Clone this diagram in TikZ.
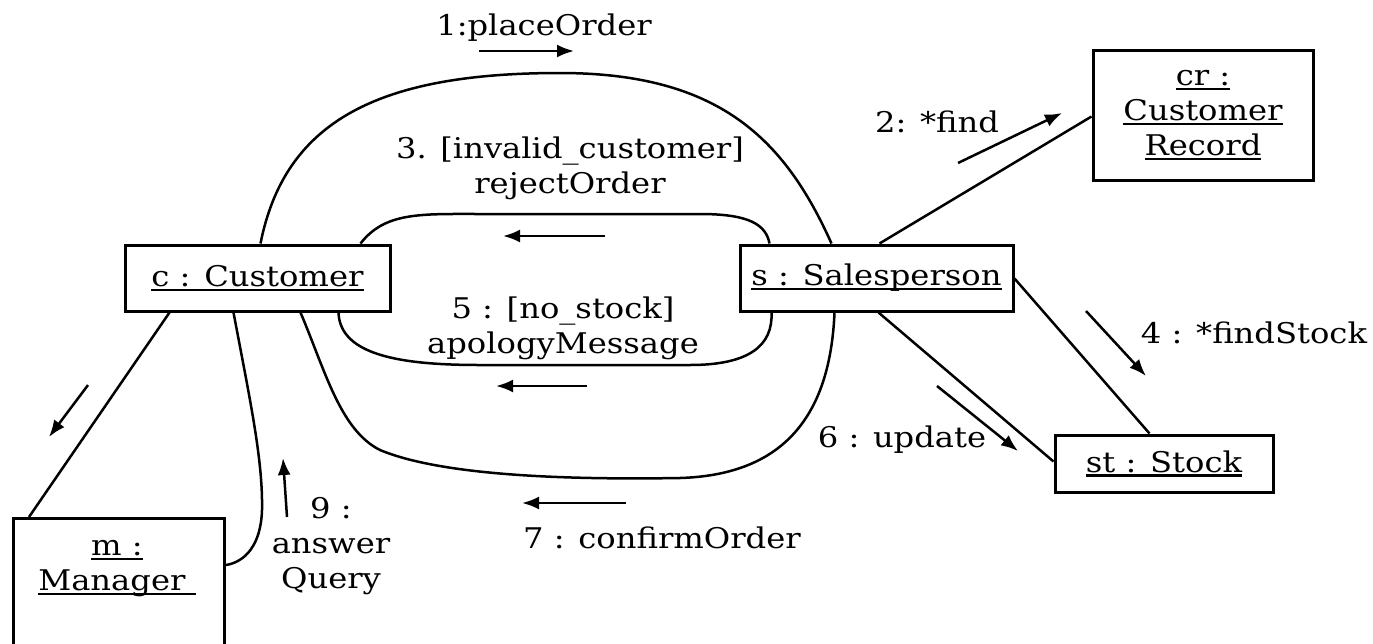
\documentclass[tikz,border=0pt]{standalone}
\usepackage{fontspec}
\setmainfont{DejaVu Serif}[FakeStretch=1.13]
\usetikzlibrary{arrows.meta}
\newsavebox\ulbox
\newcommand\ulx[1]{\sbox\ulbox{#1}\rlap{\rule[-4.5pt]{\wd\ulbox}{2.2pt}}\usebox\ulbox}
\begin{document}
\begin{tikzpicture}[x=1pt,y=-1pt,
  txt/.style={font=\fontsize{28.5}{35}\selectfont, inner sep=0pt, align=center},
  obj/.style={draw, line width=3pt, inner sep=0pt, align=center, font=\fontsize{28.5}{35}\selectfont},
  link/.style={line width=2.5pt},
  msg/.style={line width=2.5pt, -{Latex[length=17pt,width=13pt]}}]
\useasboundingbox (0,0) rectangle (1373,643);
\clip (0,0) rectangle (1373,643);
\fill[white] (0,0) rectangle (1373,643);

% objects
\node[obj, minimum width=265pt, minimum height=66pt] (c) at (257.5,278) {\ulx{c : Customer}};
\node[obj, minimum width=273pt, minimum height=66pt] (s) at (876.5,278) {\ulx{s : Salesperson}};
\node[obj, minimum width=220pt, minimum height=130pt] (cr) at (1203,115) {\ulx{cr :}\\\ulx{Customer}\\\ulx{Record}};
\node[obj, minimum width=218pt, minimum height=57pt] (st) at (1164,463.5) {\ulx{st : Stock}};
\node[obj, minimum width=211pt, minimum height=170pt, anchor=north west] (m) at (12,517) {};
\node[txt] (mt) at (117,569) {\ulx{m :}\\\ulx{Manager }};

% links
\draw[link] ([xshift=137pt]c.north west) .. controls (285,120) and (380,73) .. (560,73)
  .. controls (720,73) and (785,140) .. ([xshift=93pt]s.north west);
\draw[link] ([xshift=237pt]c.north west) .. controls (385,212) and (420,214) .. (480,214) -- (700,214)
  .. controls (750,214) and (766,225) .. ([xshift=31pt]s.north west);
\draw[link] ([xshift=215pt]c.south west) .. controls (340,355) and (400,365) .. (480,365) -- (690,365)
  .. controls (750,365) and (773,345) .. ([xshift=33pt]s.south west);
\draw[link] ([xshift=177pt]c.south west) .. controls (325,370) and (340,430) .. (380,450)
  .. controls (440,475) and (560,480) .. (680,478)
  .. controls (780,475) and (830,420) .. ([xshift=96pt]s.south west);
\draw[link] ([xshift=46pt]c.south west) -- ([xshift=17pt]m.north west);
\draw[link] ([xshift=110pt]c.south west) .. controls (250,400) and (263,460) .. (262,510)
  .. controls (261,545) and (245,562) .. ([yshift=-48pt]m.north east);
\draw[link] ([xshift=141pt]s.north west) -- ([yshift=-68pt]cr.north west);
\draw[link] ([yshift=-35pt]s.north east) -- ([xshift=96pt]st.north west);
\draw[link] ([xshift=140pt]s.south west) -- ([yshift=-28pt]st.north west);

% message labels
\node[txt, anchor=base] (l1) at (544,35) {1:placeOrder};
\node[txt] (l3) at (570,168) {3. [invalid\_customer]\\rejectOrder};
\node[txt] (l5) at (563,328) {5 : [no\_stock]\\apologyMessage};
\node[txt, anchor=base] (l7) at (662,548) {7 : confirmOrder};
\node[txt] (l9) at (331,546) {9 :\\answer\\Query};
\node[txt, anchor=base] (l2) at (937,132) {2: *find};
\node[txt, anchor=base] (l4) at (1254,343) {4 : *findStock};
\node[txt, anchor=base] (l6) at (902,447) {6 : update};

% message arrows
\coordinate (a1s) at (479,51);  \coordinate (a1e) at (574,51);
\coordinate (a2s) at (958,163); \coordinate (a2e) at (1062,113);
\coordinate (a3s) at (605,236); \coordinate (a3e) at (503,236);
\coordinate (a4s) at (1086,311); \coordinate (a4e) at (1146,376);
\coordinate (a5s) at (587,386); \coordinate (a5e) at (496,386);
\coordinate (a6s) at (937,386); \coordinate (a6e) at (1018,451);
\coordinate (a7s) at (626,503); \coordinate (a7e) at (522,503);
\coordinate (a8s) at (88,385);  \coordinate (a8e) at (49,437);
\coordinate (a9s) at (287,517); \coordinate (a9e) at (283,458);
\foreach \i in {1,...,9} \draw[msg] (a\i s) -- (a\i e);
\end{tikzpicture}
\end{document}
